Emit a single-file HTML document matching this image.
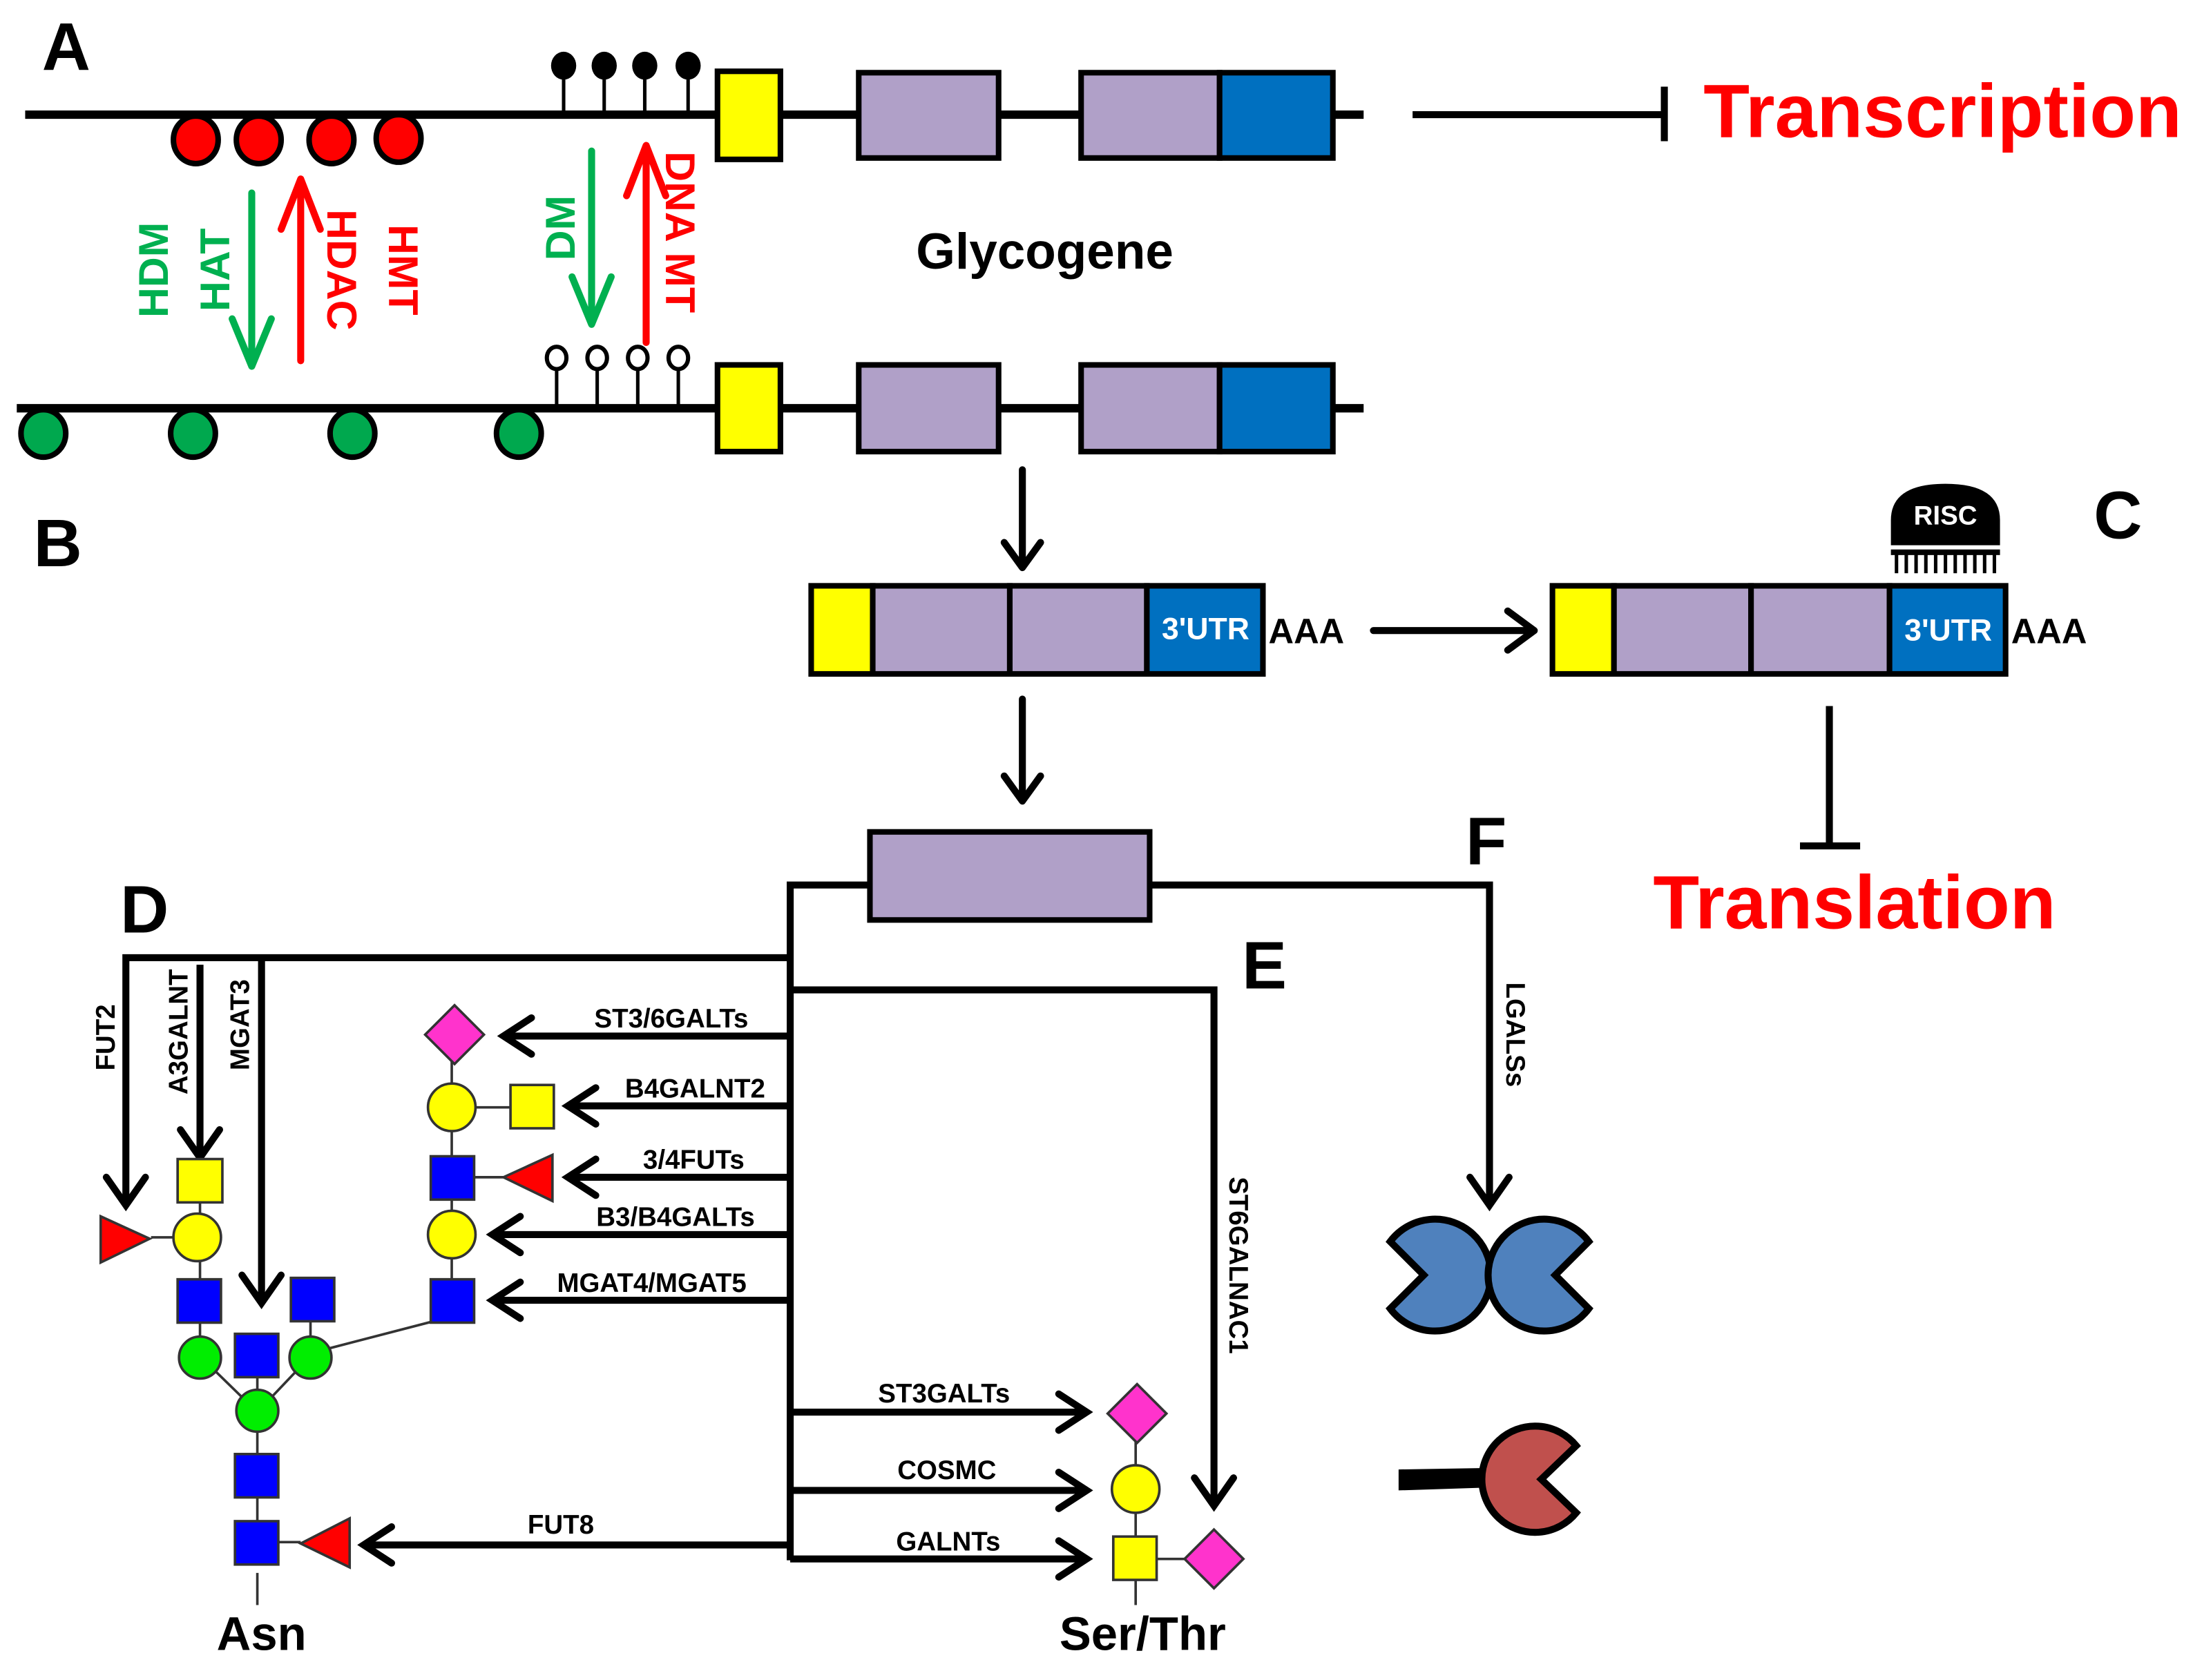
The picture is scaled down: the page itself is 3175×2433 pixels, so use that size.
<!DOCTYPE html>
<html><head><meta charset="utf-8"><style>
html,body{margin:0;padding:0;background:#fff;}
svg{display:block;}
text{font-family:"Liberation Sans",sans-serif;font-weight:bold;}
</style></head><body>
<svg width="3175" height="2433" viewBox="0 0 1568 1201.6" preserveAspectRatio="none" xmlns="http://www.w3.org/2000/svg">
<g stroke="#000" fill="none" stroke-linecap="butt">
<line x1="18" y1="82" x2="975" y2="82" stroke-width="6"/>
<line x1="12" y1="292" x2="975" y2="292" stroke-width="6"/>
<g stroke-width="2.5">
<line x1="403" y1="50" x2="403" y2="82"/><line x1="432" y1="50" x2="432" y2="82"/><line x1="461" y1="50" x2="461" y2="82"/><line x1="492" y1="50" x2="492" y2="82"/>
<line x1="398" y1="262" x2="398" y2="292"/><line x1="427" y1="262" x2="427" y2="292"/><line x1="456" y1="262" x2="456" y2="292"/><line x1="485" y1="262" x2="485" y2="292"/>
</g>
</g>
<g fill="#000"><ellipse cx="403" cy="47" rx="9" ry="10"/><ellipse cx="432" cy="47" rx="9" ry="10"/><ellipse cx="461" cy="47" rx="9" ry="10"/><ellipse cx="492" cy="47" rx="9" ry="10"/></g>
<g fill="#fff" stroke="#000" stroke-width="3"><ellipse cx="398" cy="256" rx="7" ry="8"/><ellipse cx="427" cy="256" rx="7" ry="8"/><ellipse cx="456" cy="256" rx="7" ry="8"/><ellipse cx="485" cy="256" rx="7" ry="8"/></g>
<g fill="#ff0000" stroke="#000" stroke-width="4">
<ellipse cx="140" cy="100" rx="16" ry="17"/><ellipse cx="185" cy="100" rx="16" ry="17"/><ellipse cx="237" cy="100" rx="16" ry="17"/><ellipse cx="285" cy="99" rx="16" ry="17"/>
</g>
<g fill="#00a84e" stroke="#000" stroke-width="4">
<ellipse cx="31" cy="310" rx="16" ry="17"/><ellipse cx="138" cy="310" rx="16" ry="17"/><ellipse cx="252" cy="310" rx="16" ry="17"/><ellipse cx="371" cy="310" rx="16" ry="17"/>
</g>
<g stroke="#000" stroke-width="4">
<rect x="513" y="51" width="45" height="63" fill="#ffff00"/>
<rect x="614" y="52" width="100" height="61" fill="#b0a0c8"/>
<rect x="773" y="52" width="99" height="61" fill="#b0a0c8"/>
<rect x="872" y="52" width="81" height="61" fill="#0070c0"/>
<rect x="513" y="261" width="45" height="62" fill="#ffff00"/>
<rect x="614" y="261" width="100" height="62" fill="#b0a0c8"/>
<rect x="773" y="261" width="99" height="62" fill="#b0a0c8"/>
<rect x="872" y="261" width="81" height="62" fill="#0070c0"/>
</g>
<g stroke="#000" stroke-width="5" fill="none">
<line x1="1010" y1="82" x2="1190" y2="82"/><line x1="1190" y1="62" x2="1190" y2="101"/>
</g>
<text x="1218" y="98" font-size="54" fill="#ff0000">Transcription</text>
<text x="30" y="50" font-size="48" fill="#000">A</text>
<text x="24" y="405" font-size="48" fill="#000">B</text>
<text x="1497" y="385" font-size="48" fill="#000">C</text>
<text x="86" y="667" font-size="48" fill="#000">D</text>
<text x="888" y="707" font-size="48" fill="#000">E</text>
<text x="1048" y="618" font-size="48" fill="#000">F</text>
<text x="747" y="192" font-size="36" fill="#000" text-anchor="middle">Glycogene</text>
<g stroke-width="5" fill="none" stroke-linecap="round" stroke-linejoin="round">
<path d="M180 138 V262 M166 228 L180 262 L194 228" stroke="#00b050"/>
<path d="M215 258 V132 M201 164 L215 128 L229 164" stroke="#ff0000"/>
<path d="M423 108 V232 M409 198 L423 232 L437 198" stroke="#00b050"/>
<path d="M462 245 V108 M448 140 L462 104 L476 140" stroke="#ff0000"/>
</g>
<g font-size="30">
<text transform="translate(120,193) rotate(-90)" text-anchor="middle" fill="#00b050">HDM</text>
<text transform="translate(164,193) rotate(-90)" text-anchor="middle" fill="#00b050">HAT</text>
<text transform="translate(234,193) rotate(90)" text-anchor="middle" fill="#ff0000">HDAC</text>
<text transform="translate(278,193) rotate(90)" text-anchor="middle" fill="#ff0000">HMT</text>
<text transform="translate(411,163) rotate(-90)" text-anchor="middle" fill="#00b050">DM</text>
<text transform="translate(476,166) rotate(90)" text-anchor="middle" fill="#ff0000">DNA MT</text>
</g>
<g stroke="#000" stroke-width="5" fill="none" stroke-linecap="round" stroke-linejoin="round">
<path d="M731 336 V405 M718 388 L731 406 L744 388"/>
<path d="M731 500 V572 M718 555 L731 573 L744 555"/>
<path d="M982 451 H1097 M1078 437 L1097 451 L1078 465"/>
</g>
<g stroke="#000" stroke-width="4">
<rect x="580" y="419" width="44" height="63" fill="#ffff00"/>
<rect x="624" y="419" width="98" height="63" fill="#b0a0c8"/>
<rect x="722" y="419" width="98" height="63" fill="#b0a0c8"/>
<rect x="820" y="419" width="83" height="63" fill="#0070c0"/>
<rect x="1110" y="419" width="44" height="63" fill="#ffff00"/>
<rect x="1154" y="419" width="98" height="63" fill="#b0a0c8"/>
<rect x="1252" y="419" width="99" height="63" fill="#b0a0c8"/>
<rect x="1351" y="419" width="83" height="63" fill="#0070c0"/>
</g>
<text x="862" y="457" font-size="22" fill="#fff" text-anchor="middle">3'UTR</text>
<text x="1393" y="458" font-size="22" fill="#fff" text-anchor="middle">3'UTR</text>
<text x="907" y="460" font-size="25" fill="#000">AAA</text>
<text x="1438" y="460" font-size="25" fill="#000">AAA</text>
<path d="M1352 390 L1352 372 Q1352 346 1391 346 Q1430 346 1430 372 L1430 390 Z" fill="#000"/>
<rect x="1352" y="393" width="78" height="4" fill="#000"/>
<g stroke="#000" stroke-width="2.5">
<line x1="1356" y1="396" x2="1356" y2="410"/><line x1="1363" y1="396" x2="1363" y2="410"/><line x1="1370" y1="396" x2="1370" y2="410"/><line x1="1377" y1="396" x2="1377" y2="410"/><line x1="1384" y1="396" x2="1384" y2="410"/><line x1="1391" y1="396" x2="1391" y2="410"/><line x1="1398" y1="396" x2="1398" y2="410"/><line x1="1405" y1="396" x2="1405" y2="410"/><line x1="1412" y1="396" x2="1412" y2="410"/><line x1="1419" y1="396" x2="1419" y2="410"/><line x1="1426" y1="396" x2="1426" y2="410"/>
</g>
<text x="1391" y="375" font-size="19" fill="#fff" text-anchor="middle">RISC</text>
<g stroke="#000" stroke-width="5"><line x1="1308" y1="505" x2="1308" y2="605"/><line x1="1287" y1="605" x2="1330" y2="605"/></g>
<text x="1326" y="664" font-size="54" fill="#ff0000" text-anchor="middle">Translation</text>
<rect x="622" y="595" width="200" height="63" fill="#b0a0c8" stroke="#000" stroke-width="4"/>
<g stroke="#000" stroke-width="5" fill="none" stroke-linecap="butt" stroke-linejoin="miter">
<path d="M622 633 H565 V1116"/>
<path d="M822 633 H1065 V860"/>
<path d="M565 685 H90 V860"/>
<path d="M143 690 V826"/>
<path d="M187 685 V930"/>
<path d="M565 708 H868 V1075"/>
<path d="M565 741 H362"/><path d="M565 791 H408"/><path d="M565 842 H408"/><path d="M565 883 H354"/><path d="M565 930 H354"/><path d="M565 1105 H262"/>
<path d="M565 1010 H775"/><path d="M565 1066 H775"/><path d="M565 1115 H775"/>
</g>
<g stroke="#000" stroke-width="5" fill="none" stroke-linecap="round" stroke-linejoin="miter">
<path d="M76 842 L90 862 L104 842"/>
<path d="M129 808 L143 828 L157 808"/>
<path d="M173 912 L187 932 L201 912"/>
<path d="M854 1057 L868 1077 L882 1057"/>
<path d="M1051 842 L1065 862 L1079 842"/>
<path d="M380 728 L360 741 L380 754"/>
<path d="M426 778 L406 791 L426 804"/>
<path d="M426 829 L406 842 L426 855"/>
<path d="M372 870 L352 883 L372 896"/>
<path d="M372 917 L352 930 L372 943"/>
<path d="M280 1092 L260 1105 L280 1118"/>
<path d="M757 997 L777 1010 L757 1023"/>
<path d="M757 1053 L777 1066 L757 1079"/>
<path d="M757 1102 L777 1115 L757 1128"/>
</g>
<g font-size="19" fill="#000">
<text x="480" y="735" text-anchor="middle">ST3/6GALTs</text>
<text x="497" y="785" text-anchor="middle">B4GALNT2</text>
<text x="496" y="836" text-anchor="middle">3/4FUTs</text>
<text x="483" y="877" text-anchor="middle">B3/B4GALTs</text>
<text x="466" y="924" text-anchor="middle">MGAT4/MGAT5</text>
<text x="401" y="1097" text-anchor="middle">FUT8</text>
<text x="675" y="1003" text-anchor="middle">ST3GALTs</text>
<text x="677" y="1058" text-anchor="middle">COSMC</text>
<text x="678" y="1109" text-anchor="middle">GALNTs</text>
<text transform="translate(82,742) rotate(-90)" text-anchor="middle">FUT2</text>
<text transform="translate(134,738) rotate(-90)" text-anchor="middle">A3GALNT</text>
<text transform="translate(178,733) rotate(-90)" text-anchor="middle">MGAT3</text>
<text transform="translate(1077,740) rotate(90)" text-anchor="middle">LGALSs</text>
<text transform="translate(879,905) rotate(90)" text-anchor="middle">ST6GALNAC1</text>
</g>
<g stroke="#333" stroke-width="1.8">
<line x1="143" y1="845" x2="143" y2="970"/>
<line x1="108" y1="885" x2="141" y2="885"/>
<line x1="143" y1="970" x2="184" y2="1010"/><line x1="222" y1="970" x2="184" y2="1010"/>
<line x1="184" y1="968" x2="184" y2="1103"/>
<line x1="222" y1="930" x2="222" y2="970"/>
<line x1="184" y1="1103" x2="215" y2="1103"/>
<line x1="184" y1="1125" x2="184" y2="1148"/>
<line x1="233" y1="965" x2="310" y2="945"/>
<line x1="323" y1="740" x2="323" y2="930"/>
<line x1="323" y1="792" x2="365" y2="792"/>
<line x1="323" y1="842" x2="360" y2="842"/>
<line x1="812" y1="1010" x2="812" y2="1130"/>
<line x1="812" y1="1115" x2="850" y2="1115"/>
<line x1="812" y1="1130" x2="812" y2="1148"/>
</g>
<g stroke="#333" stroke-width="1.8">
<path d="M72 870 L107 886 L72 903 Z" fill="#ff0000"/>
<rect x="127" y="829" width="32" height="31" fill="#ffff00"/>
<circle cx="141" cy="885" r="17" fill="#ffff00"/>
<rect x="127" y="915" width="31" height="31" fill="#0000ff"/>
<circle cx="143" cy="971" r="15" fill="#00ee00"/>
<rect x="168" y="954" width="31" height="31" fill="#0000ff"/>
<rect x="208" y="914" width="31" height="31" fill="#0000ff"/>
<circle cx="222" cy="971" r="15" fill="#00ee00"/>
<circle cx="184" cy="1009" r="15" fill="#00ee00"/>
<rect x="168" y="1040" width="31" height="31" fill="#0000ff"/>
<rect x="168" y="1088" width="31" height="31" fill="#0000ff"/>
<path d="M250 1086 L215 1104 L250 1121 Z" fill="#ff0000"/>
<path d="M325 719 L346 740 L325 761 L304 740 Z" fill="#ff33cc"/>
<circle cx="323" cy="792" r="17" fill="#ffff00"/>
<rect x="365" y="776" width="31" height="31" fill="#ffff00"/>
<rect x="308" y="827" width="31" height="31" fill="#0000ff"/>
<path d="M395 826 L360 842 L395 859 Z" fill="#ff0000"/>
<circle cx="323" cy="883" r="17" fill="#ffff00"/>
<rect x="308" y="915" width="31" height="31" fill="#0000ff"/>
<path d="M813 990 L834 1011 L813 1032 L792 1011 Z" fill="#ff33cc"/>
<circle cx="812" cy="1065" r="17" fill="#ffff00"/>
<rect x="796" y="1099" width="31" height="31" fill="#ffff00"/>
<path d="M868 1094 L889 1115 L868 1136 L847 1115 Z" fill="#ff33cc"/>
</g>
<text x="187" y="1180" font-size="34" fill="#000" text-anchor="middle">Asn</text>
<text x="817" y="1180" font-size="34" fill="#000" text-anchor="middle">Ser/Thr</text>
<g stroke="#000" stroke-width="5" stroke-linejoin="miter">
<path d="M1018 912 L994 888 A40 40 0 1 1 994 936 Z" fill="#4f81bd"/>
<path d="M1112 912 L1136 888 A40 40 0 1 0 1136 936 Z" fill="#4f81bd"/>
<path d="M1102 1058 L1127 1034 A38 38 0 1 0 1127 1082 Z" fill="#c0504d"/>
</g>
<path d="M1000 1051 L1062 1050 L1062 1064 L1000 1066 Z" fill="#000"/>
</svg>
</body></html>
